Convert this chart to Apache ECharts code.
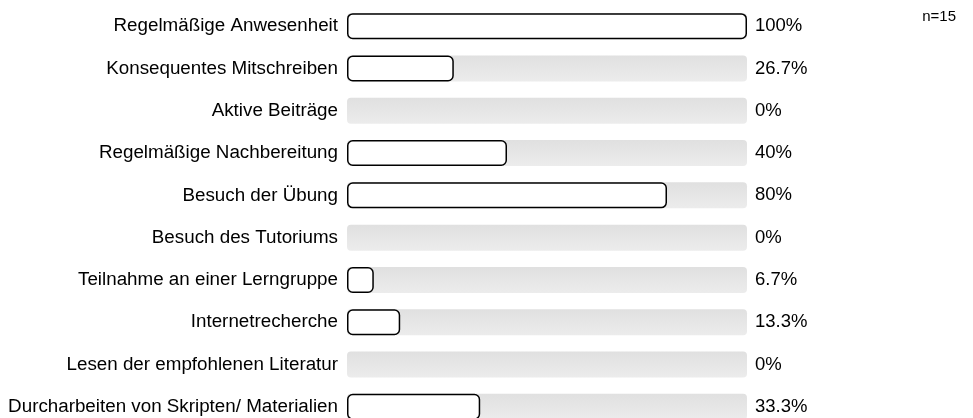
<!DOCTYPE html>
<html><head><meta charset="utf-8">
<script src="https://cdn.jsdelivr.net/npm/echarts@6/dist/echarts.min.js"></script>
<style>html,body{margin:0;padding:0;background:#fff;overflow:hidden}#c{width:973px;height:440px}</style>
</head><body><div id="c"></div>
<script>
const categories = ["Regelmäßige Anwesenheit","Konsequentes Mitschreiben","Aktive Beiträge","Regelmäßige Nachbereitung","Besuch der Übung","Besuch des Tutoriums","Teilnahme an einer Lerngruppe","Internetrecherche","Lesen der empfohlenen Literatur","Durcharbeiten von Skripten/ Materialien"];
const values = [100, 26.7, 0, 40, 80, 0, 6.7, 13.3, 0, 33.3];
const sampleNote = "n=15";
const trackMax = 100;

const FONT = '"Liberation Sans", Arial, sans-serif';
const chart = echarts.init(document.getElementById('c'), null, {renderer:'canvas'});
chart.setOption({
  animation:false,
  graphic:[{type:'text', right:17, top:9, style:{text:sampleNote, font:'15px ' + FONT, fill:'#000'}}],
  grid:{left:347, top:5, width:400, height:423, containLabel:false},
  xAxis:{type:'value', min:0, max:trackMax, show:false},
  yAxis:{type:'category', inverse:true, data:categories,
    axisLine:{show:false}, axisTick:{show:false},
    axisLabel:{margin:9, color:'#000', fontSize:18.8, fontFamily:FONT}},
  series:[
    {type:'bar', silent:true, barWidth:26, barGap:'-100%',
     data: values.map(()=>trackMax),
     itemStyle:{borderRadius:4, color:new echarts.graphic.LinearGradient(0,0,0,1,[{offset:0,color:'#e0e0e0'},{offset:1,color:'#ececec'}])},
     label:{show:true, position:'right', distance:8, color:'#000', fontSize:18.5, fontFamily:FONT,
       formatter:p=>values[p.dataIndex]+'%'}},
    {type:'bar', silent:true, barWidth:26, barGap:'-100%',
     data: values.map(v=> v>0 ? v : '-'),
     itemStyle:{color:'#fff', borderColor:'#000', borderWidth:1.5, borderRadius:5}}
  ]
});
</script></body></html>
